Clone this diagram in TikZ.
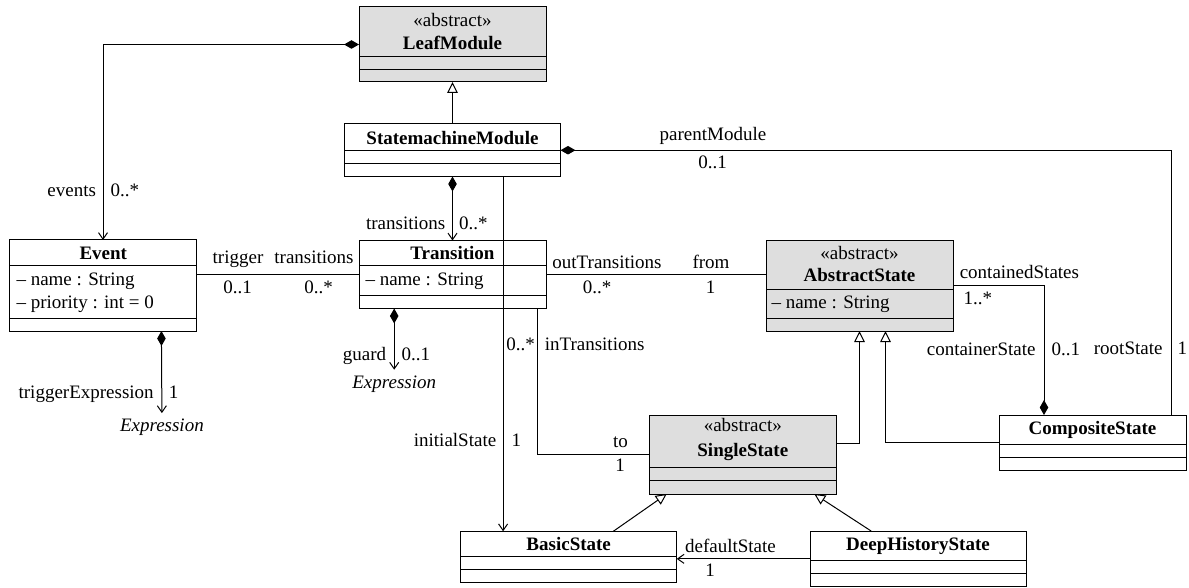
\documentclass[tikz,border=0pt]{standalone}
\usepackage{fontspec}
\setmainfont{Liberation Serif}
\usetikzlibrary{arrows.meta}
\newcommand\umlsize{\fontsize{19}{22}\selectfont}
% horizontal compartment separator inside a class box: #1 node, #2 distance from top
\newcommand\umldiv[2]{\draw ([yshift=-#2pt]#1.north west) -- ([yshift=-#2pt]#1.north east);}
\begin{document}
\begin{tikzpicture}[x=1pt,y=-1pt,line width=1pt,
  cls/.style={draw, rectangle, fill=white, inner sep=0pt, outer sep=0pt,
              anchor=north west, minimum width=187pt},
  wide/.style={minimum width=216pt},
  abscls/.style={cls, fill=black!13},
  txt/.style={font=\umlsize, inner sep=0pt, anchor=base},
  bold/.style={txt, font=\umlsize\bfseries},
  attr/.style={txt, anchor=base west},
  lbl/.style={txt},
  lblL/.style={txt, anchor=base east},
  lblR/.style={txt, anchor=base west},
  typ/.style={txt, font=\umlsize\itshape, outer sep=6pt},
  nav/.style={-{Straight Barb[length=6.5pt,width=9pt]}},
  gen/.style={-{Triangle[open,length=11pt,width=10.5pt]}},
  compnav/.style={{Diamond[length=15pt,width=8.5pt]}-{Straight Barb[length=6.5pt,width=9pt]}},
  compstart/.style={{Diamond[length=15pt,width=8.5pt]}-},
  compend/.style={-{Diamond[length=15pt,width=8.5pt]}}
]
\useasboundingbox (0,0) rectangle (1189,588);

% ---------- classes ----------
\node[abscls, minimum height=75pt] (leaf) at (359,7) {};
\umldiv{leaf}{49.7}\umldiv{leaf}{62.3}
\node[txt] (leafSt) at (452.5,26.7) {«abstract»};
\node[bold] (leafN) at (452.5,50) {LeafModule};

\node[cls, wide, minimum height=52.5pt] (sm) at (344.5,124) {};
\umldiv{sm}{27}\umldiv{sm}{39.5}
\node[bold] (smN) at (452.5,144.3) {StatemachineModule};

\node[cls, minimum height=91pt] (event) at (9.5,240) {};
\umldiv{event}{26}\umldiv{event}{78.3}
\node[bold] (eventN) at (103.25,259.5) {Event};
\node[attr] (eventA1) at (16,286) {– name : String};
\node[attr] (eventA2) at (16,308) {– priority : int = 0};

\node[cls, minimum height=68pt] (trans) at (359,240.5) {};
\umldiv{trans}{25.5}\umldiv{trans}{55.2}
\node[bold] (transN) at (452.5,259.3) {Transition};
\node[attr] (transA1) at (365,285) {– name : String};

\node[abscls, minimum height=90.5pt] (abs) at (766,240.5) {};
\umldiv{abs}{48.8}\umldiv{abs}{77.8}
\node[txt] (absSt) at (859.5,260) {«abstract»};
\node[bold] (absN) at (859.5,281.7) {AbstractState};
\node[attr] (absA1) at (771,308.3) {– name : String};

\node[abscls, minimum height=79pt] (single) at (649.3,415) {};
\umldiv{single}{52.3}\umldiv{single}{65.7}
\node[txt] (singleSt) at (742.8,431.7) {«abstract»};
\node[bold] (singleN) at (742.8,456.7) {SingleState};

\node[cls, minimum height=55.5pt] (comp) at (999,415) {};
\umldiv{comp}{29.3}\umldiv{comp}{42.3}
\node[bold] (compN) at (1092.5,434) {CompositeState};

\node[cls, wide, minimum height=51.4pt] (basic) at (460.7,531.3) {};
\umldiv{basic}{25}\umldiv{basic}{38}
\node[bold] (basicN) at (568.7,550) {BasicState};

\node[cls, wide, minimum height=55.7pt] (deep) at (810,531) {};
\umldiv{deep}{29.7}\umldiv{deep}{42.5}
\node[bold] (deepN) at (918,550) {DeepHistoryState};

% referenced types
\node[typ] (exprG) at (394.2,388.3) {Expression};
\node[typ] (exprT) at (161.9,431.7) {Expression};

% ---------- connectors ----------
\draw[compnav] (leaf.west) -| (event.north);
\draw[gen] (sm.north) -- (leaf.south);
\draw[compnav] (sm.south) -- (trans.north);
\draw[compstart] (sm.east) -| ([xshift=-14.5pt]comp.north east);
\draw (trans.west) -- (trans.west -| event.east);
\draw (trans.east) -- (trans.east -| abs.west);
\draw[compnav] ([xshift=35.2pt]trans.south west) -- (exprG.north);
\draw[compnav] ([xshift=-35.1pt]event.south east) -- (exprT.north);
\draw[nav] ([xshift=-57.4pt]sm.south east) -- ([xshift=-57.4pt]sm.south east |- basic.north);
\draw ([xshift=-8.3pt]trans.south east) |- (single.west);
\draw[compend] (abs.east) -| ([xshift=45pt]comp.north west);
\draw[gen] ([yshift=11.5pt]single.east) -| (abs.south);
\draw[gen] (comp.west) -| ([xshift=26pt]abs.south);
\draw[gen] ([xshift=44.6pt]basic.north) -- ([xshift=17.4pt]single.south west);
\draw[gen] ([xshift=-46.9pt]deep.north) -- ([xshift=-22pt]single.south east);
\draw[nav] (deep.west) -- (deep.west -| basic.east);

% ---------- role names and multiplicities ----------
\node[lblL] (rEvents) at (96.5,196.7) {events};
\node[lblR] (mEvents) at (110,196.7) {0..*};
\node[lblL] (rTrans) at (445.8,229.3) {transitions};
\node[lblR] (mTrans) at (458.5,229.3) {0..*};
\node[lbl] (rTrigger) at (238,264) {trigger};
\node[lbl] (rTrigTrans) at (314,264) {transitions};
\node[lbl] (mTrigger) at (237.5,293.3) {0..1};
\node[lbl] (mTrigTrans) at (318.5,293.3) {0..*};
\node[lbl] (rOut) at (607,268.3) {outTransitions};
\node[lbl] (rFrom) at (711,268.3) {from};
\node[lbl] (mOut) at (597,293.3) {0..*};
\node[lbl] (mFrom) at (710.5,293.3) {1};
\node[lbl] (rParent) at (713,140.7) {parentModule};
\node[lbl] (mParent) at (712.5,168.3) {0..1};
\node[lblL] (rRoot) at (1163,354) {rootState};
\node[lblR] (mRoot) at (1177,354) {1};
\node[lblR] (rContained) at (959.3,278.3) {containedStates};
\node[lblR] (mContained) at (963,305) {1..*};
\node[lblL] (rContainer) at (1036,355) {containerState};
\node[lblR] (mContainer) at (1051,355) {0..1};
\node[lblL] (rGuard) at (386.7,360) {guard};
\node[lblR] (mGuard) at (401,360) {0..1};
\node[lblL] (rTrigExpr) at (154.2,398.3) {triggerExpression};
\node[lblR] (mTrigExpr) at (168.4,398.3) {1};
\node[lbl] (mIn) at (520.5,350) {0..*};
\node[lblR] (rIn) at (544.3,350) {inTransitions};
\node[lblL] (rInitial) at (496.7,446.7) {initialState};
\node[lblR] (mInitial) at (511,446.7) {1};
\node[lbl] (rTo) at (620.6,447.3) {to};
\node[lbl] (mTo) at (620,471.7) {1};
\node[lbl] (rDefault) at (730.5,552.3) {defaultState};
\node[lbl] (mDefault) at (710,576.7) {1};
\end{tikzpicture}
\end{document}
